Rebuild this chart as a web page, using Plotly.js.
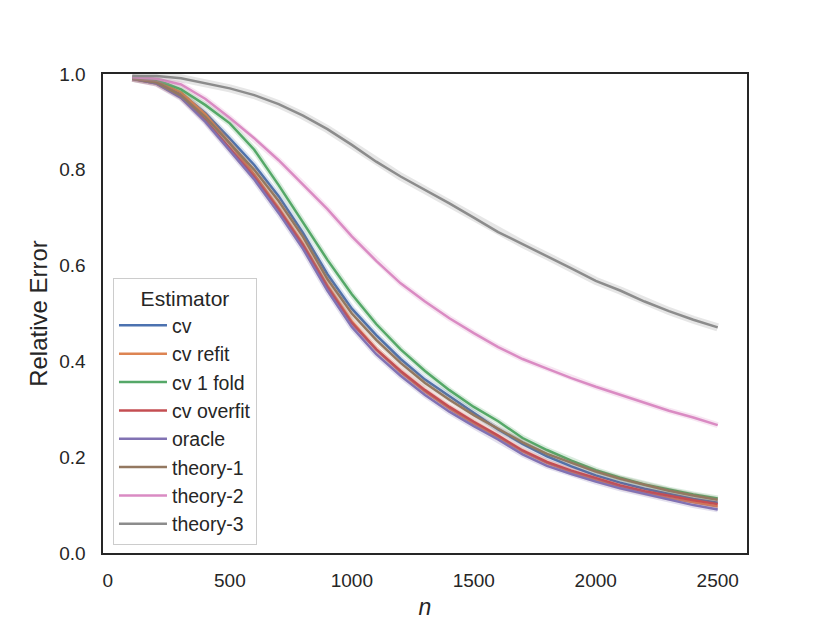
<!DOCTYPE html>
<html>
<head>
<meta charset="utf-8">
<script src="https://cdn.plot.ly/plotly-3.0.1.min.js"></script>
<style>
  html, body { margin: 0; padding: 0; background: #fff; }
  #chart { width: 830px; height: 623px; }
</style>
</head>
<body>
<div id="chart"></div>
<script>
// sample sizes
const nValues = [100, 200, 300, 400, 500, 600, 700, 800, 900, 1000, 1100, 1200, 1300,
                 1400, 1500, 1600, 1700, 1800, 1900, 2000, 2100, 2200, 2300, 2400, 2500];

// relative error
const cv = [0.992, 0.985, 0.960, 0.918, 0.865, 0.810, 0.745, 0.668, 0.582, 0.510, 0.455, 0.405, 0.362,
            0.327, 0.292, 0.258, 0.228, 0.202, 0.181, 0.162, 0.147, 0.134, 0.123, 0.113, 0.105];
const cvRefit = [0.992, 0.985, 0.962, 0.915, 0.855, 0.790, 0.720, 0.645, 0.558, 0.483, 0.425, 0.378, 0.337,
                 0.302, 0.270, 0.241, 0.212, 0.188, 0.169, 0.152, 0.138, 0.126, 0.115, 0.106, 0.097];
const cv1Fold = [0.993, 0.988, 0.968, 0.935, 0.897, 0.842, 0.768, 0.690, 0.612, 0.540, 0.478, 0.425, 0.380,
                 0.340, 0.305, 0.275, 0.240, 0.215, 0.193, 0.173, 0.157, 0.143, 0.132, 0.122, 0.114];
const cvOverfit = [0.990, 0.980, 0.952, 0.903, 0.845, 0.785, 0.717, 0.642, 0.555, 0.480, 0.425, 0.380, 0.340,
                   0.305, 0.274, 0.245, 0.214, 0.190, 0.172, 0.156, 0.141, 0.129, 0.119, 0.110, 0.102];
const oracle = [0.990, 0.980, 0.950, 0.900, 0.840, 0.780, 0.710, 0.635, 0.548, 0.472, 0.415, 0.370, 0.330,
                0.295, 0.265, 0.237, 0.206, 0.182, 0.165, 0.149, 0.135, 0.123, 0.111, 0.100, 0.091];
const theory1 = [0.990, 0.982, 0.955, 0.910, 0.855, 0.800, 0.735, 0.660, 0.572, 0.500, 0.445, 0.397, 0.355,
                 0.320, 0.288, 0.259, 0.231, 0.207, 0.188, 0.170, 0.155, 0.142, 0.130, 0.120, 0.111];
const theory2 = [0.993, 0.990, 0.978, 0.948, 0.908, 0.866, 0.820, 0.770, 0.718, 0.661, 0.610, 0.563, 0.525,
                 0.490, 0.459, 0.430, 0.405, 0.385, 0.365, 0.347, 0.330, 0.313, 0.297, 0.283, 0.267];
const theory3 = [0.996, 0.996, 0.991, 0.981, 0.970, 0.956, 0.937, 0.913, 0.885, 0.852, 0.817, 0.786, 0.758,
                 0.730, 0.700, 0.670, 0.645, 0.620, 0.594, 0.568, 0.548, 0.525, 0.505, 0.487, 0.471];

const seriesNames = ["cv", "cv refit", "cv 1 fold", "cv overfit", "oracle", "theory-1", "theory-2", "theory-3"];
const seriesValues = [cv, cvRefit, cv1Fold, cvOverfit, oracle, theory1, theory2, theory3];
const seriesColors = ["#4c72b0", "#dd8452", "#55a868", "#c44e52", "#8172b3", "#937860", "#da8bc3", "#8c8c8c"];

const xTicks = [0, 500, 1000, 1500, 2000, 2500];
const yTicks = [0.0, 0.2, 0.4, 0.6, 0.8, 1.0];

const FONT = "Arial, 'Liberation Sans', 'DejaVu Sans', sans-serif";

const traces = [];
seriesNames.forEach((name, i) => {
    // soft halo standing in for the confidence band
    traces.push({
        x: nValues,
        y: seriesValues[i],
        type: "scatter",
        mode: "lines",
        line: { color: seriesColors[i], width: name === "theory-3" ? 8 : 6 },
        opacity: 0.22,
        legendgroup: name,
        showlegend: false,
        hoverinfo: "skip"
    });
    traces.push({
        x: nValues,
        y: seriesValues[i],
        type: "scatter",
        mode: "lines",
        name: name,
        line: { color: seriesColors[i], width: 2.5 },
        legendgroup: name
    });
});

const layout = {
    width: 830,
    height: 623,
    margin: { l: 103, r: 83, t: 74, b: 70 },
    paper_bgcolor: "#ffffff",
    plot_bgcolor: "#ffffff",
    font: { family: FONT, color: "#262626", size: 19 },
    xaxis: {
        range: [-20, 2620],
        tickvals: xTicks,
        ticktext: xTicks.map(String),
        showgrid: false,
        zeroline: false,
        showline: true,
        mirror: true,
        linecolor: "#262626",
        linewidth: 1.6,
        ticks: "",
        ticklabelstandoff: 10,
        tickfont: { size: 19, color: "#262626" },
        title: { text: "<i>n</i>", font: { size: 23, color: "#262626" }, standoff: 8 }
    },
    yaxis: {
        range: [0, 1],
        tickvals: yTicks,
        ticktext: yTicks.map(v => v.toFixed(1)),
        showgrid: false,
        zeroline: false,
        showline: true,
        mirror: true,
        linecolor: "#262626",
        linewidth: 1.6,
        ticks: "",
        ticklabelstandoff: 12,
        tickfont: { size: 19, color: "#262626" },
        title: { text: "Relative Error", font: { size: 24, color: "#262626" }, standoff: 5 }
    },
    legend: {
        x: 0.0155,
        y: 0.017,
        xanchor: "left",
        yanchor: "bottom",
        bgcolor: "rgba(255,255,255,0.8)",
        bordercolor: "#cccccc",
        borderwidth: 1,
        itemwidth: 48,
        font: { size: 19.5, color: "#262626" },
        title: { text: "Estimator", side: "top center", font: { size: 21, color: "#262626" } },
        tracegroupgap: 0
    },
    showlegend: true
};

Plotly.newPlot("chart", traces, layout, { displayModeBar: false, staticPlot: true });
</script>
</body>
</html>
